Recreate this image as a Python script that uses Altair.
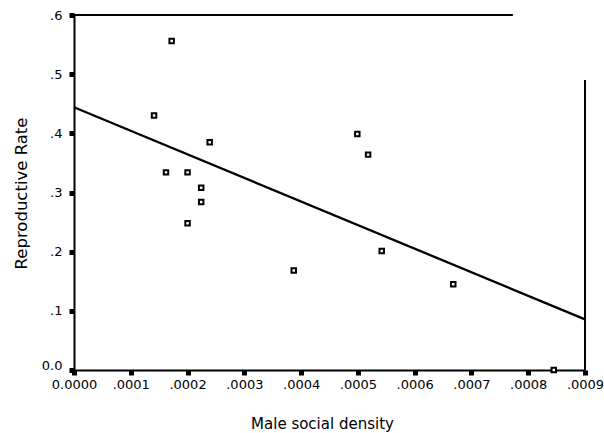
import altair as alt
import pandas as pd

# Scatter points
density = [0.000141, 0.000172, 0.000162, 0.000200, 0.000224, 0.000224, 0.000200,
           0.000239, 0.000387, 0.000499, 0.000518, 0.000542, 0.000668, 0.000845]
rate = [0.430, 0.556, 0.334, 0.334, 0.308, 0.284, 0.248,
        0.385, 0.168, 0.399, 0.364, 0.201, 0.145, 0.000]

# Fitted line end points
fit_x = [0.0, 0.0009]
fit_y = [0.444, 0.0856]

# Partial frame lines
top_x = [0.0, 0.000773]
top_y = [0.6, 0.6]
right_x = [0.0009, 0.0009]
right_y = [0.0, 0.49]

x_ticks = [0.0, 0.0001, 0.0002, 0.0003, 0.0004, 0.0005, 0.0006, 0.0007, 0.0008, 0.0009]
x_labels = ["0.0000", ".0001", ".0002", ".0003", ".0004", ".0005", ".0006", ".0007", ".0008", ".0009"]
y_ticks = [0.0, 0.1, 0.2, 0.3, 0.4, 0.5, 0.6]
y_labels = ["0.0", ".1", ".2", ".3", ".4", ".5", ".6"]

pts = pd.DataFrame({"x": density, "y": rate})
fit = pd.DataFrame({"x": fit_x, "y": fit_y})
top = pd.DataFrame({"x": top_x, "y": top_y})
right = pd.DataFrame({"x": right_x, "y": right_y})

def lab_expr(ticks, labels):
    parts = []
    for t, l in zip(ticks, labels):
        parts.append(f"abs(datum.value - {t}) < 1e-9 ? '{l}'")
    return " : ".join(parts) + " : ''"

FONT = "DejaVu Sans"

xscale = alt.Scale(domain=[0, 0.0009], nice=False, zero=False)
yscale = alt.Scale(domain=[0, 0.6], nice=False)

xaxis = alt.Axis(
    values=x_ticks, labelExpr=lab_expr(x_ticks, x_labels),
    title="Male social density", grid=False,
    domainColor="black", domainWidth=2, tickColor="black", tickWidth=5, tickSize=5,
    labelFont=FONT, labelFontSize=13, labelColor="black", labelPadding=3,
    labelFlush=False, labelOverlap=False,
    titleFont=FONT, titleFontSize=15, titleFontWeight="normal", titleColor="black",
    titleX=248, titleY=58, titleBaseline="alphabetic", titleAlign="center",
)
yaxis = alt.Axis(
    values=y_ticks, labelExpr=lab_expr(y_ticks, y_labels),
    title="Reproductive Rate", grid=False,
    domainColor="black", domainWidth=2, tickColor="black", tickWidth=5, tickSize=5,
    labelFont=FONT, labelFontSize=13, labelColor="black", labelPadding=7,
    labelFlush=False, labelOverlap=False,
    labelOffset={"condition": {"test": "datum.value === 0", "value": -5}, "value": 0},
    titleFont=FONT, titleFontSize=16.5, titleFontWeight="normal", titleColor="black",
    titleX=-53, titleY=178, titleAngle=270, titleBaseline="middle", titleAlign="center",
)

line = alt.Chart(fit).mark_line(color="black", strokeWidth=2.3).encode(
    x=alt.X("x:Q", scale=xscale, axis=xaxis),
    y=alt.Y("y:Q", scale=yscale, axis=yaxis),
)
top_line = alt.Chart(top).mark_line(color="black", strokeWidth=2).encode(
    x=alt.X("x:Q", scale=xscale), y=alt.Y("y:Q", scale=yscale))
right_line = alt.Chart(right).mark_line(color="black", strokeWidth=2).encode(
    x=alt.X("x:Q", scale=xscale), y=alt.Y("y:Q", scale=yscale))
points = alt.Chart(pts).mark_square(
    size=20, filled=False, stroke="black", strokeWidth=2, fill="white", fillOpacity=1, opacity=1
).encode(x=alt.X("x:Q", scale=xscale), y=alt.Y("y:Q", scale=yscale))

chart = alt.layer(line, top_line, right_line, points).properties(
    width=511, height=355,
    autosize=alt.AutoSizeParams(type="none"),
    padding={"left": 74, "top": 15, "right": 19, "bottom": 63},
    background="white",
).configure_view(stroke=None)

chart.save("out.html", embed_options={"renderer": "svg", "actions": False})
